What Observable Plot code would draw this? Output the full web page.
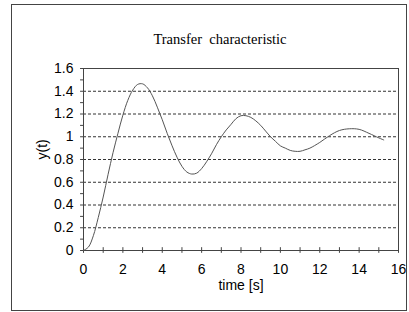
<!DOCTYPE html>
<html>
<head>
<meta charset="utf-8">
<script src="https://cdn.jsdelivr.net/npm/d3@7"></script>
<script src="https://cdn.jsdelivr.net/npm/@observablehq/plot@0.6"></script>
<style>
  body { margin: 0; background: #fff; }
  #wrap { position: relative; width: 409px; height: 312px; }
  #border { position: absolute; left: 11px; top: 4px; width: 394px; height: 305px; border: 1px solid #444; pointer-events: none; }
  #title { position: absolute; left: 0; width: 440px; top: 31px; text-align: center; font-family: "Liberation Serif", "Times New Roman", serif; font-size: 14.5px; color: #000; white-space: pre; }
</style>
</head>
<body>
<div id="wrap">
  <div id="border"></div>
  <div id="title">Transfer  characteristic</div>
</div>
<script>
const titleText = "Transfer  characteristic";
const xLabel = "time [s]";
const yLabel = "y(t)";

const time = [0, 0.25, 0.5, 0.75, 1.0, 1.25, 1.5, 1.75, 2.0, 2.25, 2.5, 2.75, 3.0, 3.25, 3.5, 3.75, 4.0, 4.25, 4.5, 4.75, 5.0, 5.25, 5.5, 5.75, 6.0, 6.25, 6.5, 6.75, 7.0, 7.25, 7.5, 7.75, 8.0, 8.25, 8.5, 8.75, 9.0, 9.25, 9.5, 9.75, 10.0, 10.25, 10.5, 10.75, 11.0, 11.25, 11.5, 12.0, 12.5, 13.0, 13.5, 14.0, 14.5, 15.0, 15.25];
const response = [0, 0.03, 0.13, 0.29, 0.47, 0.67, 0.86, 1.03, 1.19, 1.32, 1.41, 1.46, 1.465, 1.43, 1.36, 1.26, 1.15, 1.03, 0.92, 0.82, 0.74, 0.69, 0.672, 0.68, 0.72, 0.78, 0.85, 0.93, 1.0, 1.06, 1.11, 1.16, 1.185, 1.185, 1.17, 1.14, 1.10, 1.05, 1.0, 0.96, 0.92, 0.90, 0.88, 0.872, 0.872, 0.885, 0.90, 0.95, 1.01, 1.055, 1.07, 1.065, 1.03, 0.99, 0.972];

const xTicks = [0, 2, 4, 6, 8, 10, 12, 14, 16];
const xMinorTicks = [0, 1, 2, 3, 4, 5, 6, 7, 8, 9, 10, 11, 12, 13, 14, 15, 16];
const yTicks = [0, 0.2, 0.4, 0.6, 0.8, 1, 1.2, 1.4, 1.6];
const yTickLabels = ["0", "0.2", "0.4", "0.6", "0.8", "1", "1.2", "1.4", "1.6"];
const yMinorTicks = [0, 0.1, 0.2, 0.3, 0.4, 0.5, 0.6, 0.7, 0.8, 0.9, 1.0, 1.1, 1.2, 1.3, 1.4, 1.5, 1.6];
const yGrid = [0.2, 0.4, 0.6, 0.8, 1, 1.2, 1.4];

const data = time.map((t, i) => ({t, y: response[i]}));
document.getElementById("title").textContent = titleText;

const chart = Plot.plot({
  width: 409,
  height: 312,
  marginLeft: 83,
  marginRight: 11,
  marginTop: 68,
  marginBottom: 62,
  style: { fontFamily: "'Liberation Sans', Arial, sans-serif", fontSize: "14px", color: "#000", background: "transparent" },
  x: { domain: [0, 16] },
  y: { domain: [0, 1.6] },
  marks: [
    Plot.ruleY(yGrid, { stroke: "#333", strokeDasharray: "3,2", strokeWidth: 1 }),
    Plot.frame({ stroke: "#444" }),
    Plot.ruleX(xMinorTicks, { y1: -0.025, y2: 0.025, stroke: "#444" }),
    Plot.ruleY(yMinorTicks, { x1: -0.15, x2: 0, stroke: "#444" }),
    Plot.axisX(xTicks, { tickSize: 0, tickPadding: 14, label: null, fontSize: "14px" }),
    Plot.axisY(yTicks, { tickSize: 0, tickPadding: 10, label: null, fontSize: "14px", tickFormat: (d, i) => yTickLabels[i] }),
    Plot.line(data, { x: "t", y: "y", curve: "catmull-rom", stroke: "#555", strokeWidth: 1 }),
    Plot.text([xLabel], { frameAnchor: "bottom", dy: 39, fontSize: "14px" }),
    Plot.text([yLabel], { frameAnchor: "left", dx: -41, rotate: -90, fontSize: "14px" })
  ]
});
document.getElementById("wrap").prepend(chart);
chart.style.position = "absolute";
chart.style.left = "0";
chart.style.top = "0";
</script>
</body>
</html>
